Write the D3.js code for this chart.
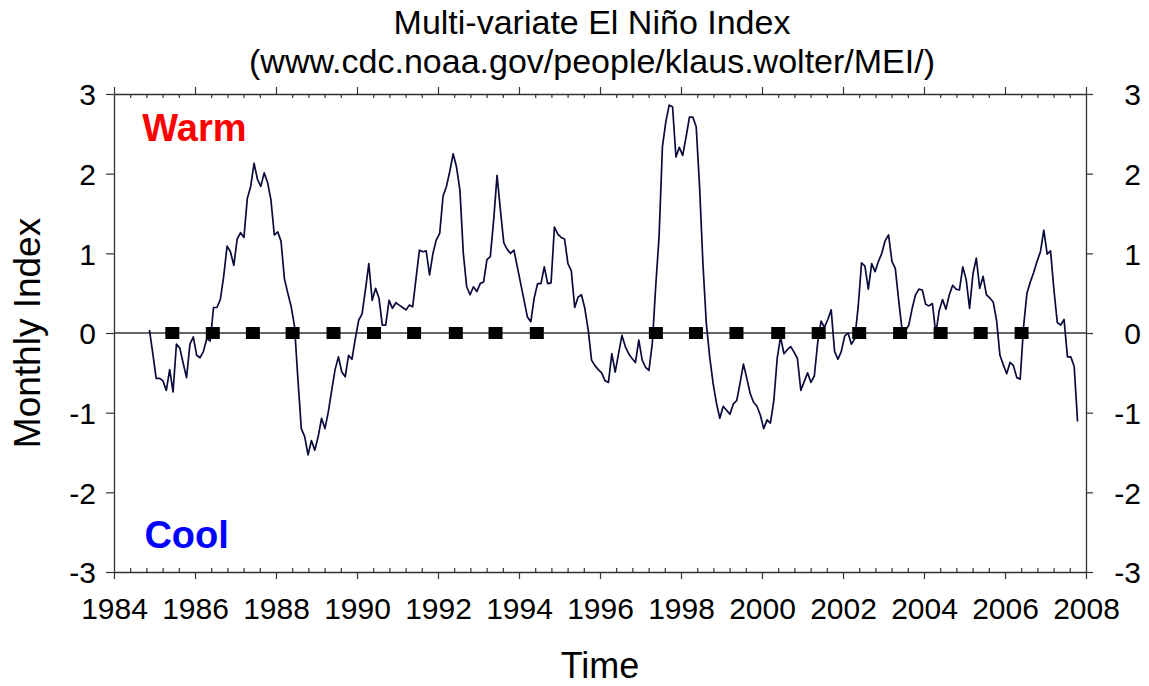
<!DOCTYPE html>
<html>
<head>
<meta charset="utf-8">
<script src="https://cdn.jsdelivr.net/npm/d3@7"></script>
<style>
  body { margin: 0; background: #fff; }
  svg { display: block; font-family: "Liberation Sans", Arial, sans-serif; }
</style>
</head>
<body>
<div id="chart"></div>
<script>
// DATA
var startYear = 1984.875; // first monthly value, then one value per month
var mei = [
   0.04, -0.26, -0.57, -0.57, -0.60, -0.72, -0.46, -0.74, -0.14, -0.19, -0.38, -0.56,
  -0.14, -0.05, -0.28, -0.31, -0.23, -0.07, -0.10,  0.32,  0.32,  0.42,  0.71,  1.09,
   1.02,  0.85,  1.18,  1.26,  1.20,  1.69,  1.84,  2.13,  1.93,  1.84,  2.01,  1.89,
   1.67,  1.23,  1.27,  1.15,  0.68,  0.50,  0.33,  0.08, -0.59, -1.20, -1.30, -1.53,
  -1.35, -1.47, -1.30, -1.07, -1.20, -0.99, -0.72, -0.46, -0.30, -0.49, -0.55, -0.28,
  -0.33, -0.07,  0.16,  0.24,  0.54,  0.87,  0.41,  0.56,  0.44,  0.10,  0.10,  0.41,
   0.31,  0.38,  0.35,  0.32,  0.29,  0.35,  0.33,  0.69,  1.04,  1.02,  1.03,  0.73,
   1.00,  1.17,  1.25,  1.72,  1.84,  2.03,  2.25,  2.08,  1.79,  1.00,  0.58,  0.48,
   0.58,  0.52,  0.62,  0.64,  0.92,  0.96,  1.42,  1.98,  1.54,  1.13,  1.05,  1.00,
   1.04,  0.83,  0.62,  0.41,  0.20,  0.14,  0.44,  0.62,  0.62,  0.83,  0.62,  0.63,
   1.33,  1.24,  1.20,  1.18,  0.87,  0.78,  0.32,  0.45,  0.48,  0.31,  0.04, -0.34,
  -0.41, -0.46, -0.50, -0.60, -0.62, -0.26, -0.49, -0.26, -0.03, -0.17, -0.26, -0.32,
  -0.37, -0.09, -0.34, -0.43, -0.47, -0.13,  0.58,  1.21,  2.34,  2.65,  2.86,  2.84,
   2.21,  2.33,  2.23,  2.46,  2.71,  2.71,  2.59,  1.84,  0.87,  0.12, -0.30, -0.63,
  -0.88, -1.07, -0.92, -0.97, -1.02, -0.89, -0.85, -0.63, -0.39, -0.57, -0.76, -0.87,
  -0.92, -1.03, -1.20, -1.09, -1.13, -0.85, -0.32, -0.05, -0.26, -0.21, -0.17, -0.24,
  -0.32, -0.72, -0.61, -0.50, -0.62, -0.54, -0.12,  0.15,  0.07,  0.17,  0.29, -0.23,
  -0.33, -0.23, -0.04,  0.00, -0.14, -0.07,  0.33,  0.88,  0.84,  0.55,  0.87,  0.77,
   0.90,  1.00,  1.16,  1.23,  0.90,  0.81,  0.41,  0.04,  0.03,  0.10,  0.31,  0.48,
   0.55,  0.54,  0.36,  0.34,  0.37, -0.01,  0.28,  0.42,  0.30,  0.48,  0.60,  0.55,
   0.54,  0.83,  0.67,  0.31,  0.74,  0.94,  0.56,  0.71,  0.48,  0.44,  0.39,  0.16,
  -0.28, -0.40, -0.51, -0.37, -0.41, -0.56, -0.58,  0.08,  0.50,  0.64,  0.76,  0.90,
   1.02,  1.29,  0.99,  1.03,  0.54,  0.13,  0.10,  0.17, -0.30, -0.30, -0.42, -1.11
];
// black squares sitting on the zero line
var markerYears = [1985.44, 1986.44, 1987.43, 1988.41, 1989.42, 1990.42, 1991.41, 1992.44, 1993.42, 1994.44,
                   1997.38, 1998.37, 1999.37, 2000.40, 2001.40, 2002.40, 2003.41, 2004.41, 2005.40, 2006.41];
var yearTicks = [1984, 1986, 1988, 1990, 1992, 1994, 1996, 1998, 2000, 2002, 2004, 2006, 2008];
var indexTicks = [-3, -2, -1, 0, 1, 2, 3];


// SVG
var svgWidth = 1149;
var svgHeight = 686;
var margins = { top: 94, bottom: 114, left: 114, right: 63 };
var width = svgWidth - margins.left - margins.right;
var height = svgHeight - margins.top - margins.bottom;

var svg = d3.select("#chart")
    .append("svg")
    .attr("width", svgWidth)
    .attr("height", svgHeight);

var g = svg.append("g")
    .attr("transform", "translate(" + margins.left + "," + margins.top + ")");

// Scales
var x = d3.scaleLinear().domain([1984, 2008]).range([0, width]);
var y = d3.scaleLinear().domain([-3, 3]).range([height, 0]);

// minor ticks every 0.4 year, skipping the labelled ones
var minorTicks = d3.range(1984, 2008.001, 0.4).filter(function(v) {
    return Math.abs(v - Math.round(v / 2) * 2) > 0.01;
});

var axisColor = "#333";
var tickFont = 30;
var plainNum = function(d) { return String(d); }; // keep ascii hyphen for negatives

// Bottom axis (major ticks out, minor ticks in)
g.append("g")
    .attr("transform", "translate(0," + height + ")")
    .call(d3.axisBottom(x).tickValues(yearTicks).tickFormat(plainNum)
        .tickSizeInner(7).tickSizeOuter(0).tickPadding(19));
g.append("g")
    .attr("transform", "translate(0," + height + ")")
    .call(d3.axisBottom(x).tickValues(minorTicks).tickFormat("")
        .tickSizeInner(-4).tickSizeOuter(0))
    .select(".domain").remove();

// Top axis
g.append("g")
    .call(d3.axisTop(x).tickValues(yearTicks).tickFormat("")
        .tickSizeInner(7).tickSizeOuter(0));
g.append("g")
    .call(d3.axisTop(x).tickValues(minorTicks).tickFormat("")
        .tickSizeInner(-4).tickSizeOuter(0))
    .select(".domain").remove();

// Left and right axes
var left = g.append("g")
    .call(d3.axisLeft(y).tickValues(indexTicks).tickFormat(plainNum)
        .tickSizeInner(8).tickSizeOuter(0).tickPadding(10));
var right = g.append("g")
    .attr("transform", "translate(" + width + ",0)")
    .call(d3.axisRight(y).tickValues(indexTicks).tickFormat(plainNum)
        .tickSizeInner(7).tickSizeOuter(0).tickPadding(48));

g.selectAll(".domain").attr("stroke", axisColor).attr("stroke-width", 1.3);
g.selectAll(".tick line").attr("stroke", axisColor).attr("stroke-width", 1.2);
g.selectAll(".tick text")
    .attr("font-family", "Liberation Sans, Arial, sans-serif")
    .attr("font-size", tickFont)
    .attr("fill", "#000");
left.selectAll(".tick text").attr("dy", "0.36em");
right.selectAll(".tick text").attr("dy", "0.36em").attr("text-anchor", "end");

// Zero line
g.append("line")
    .attr("x1", 0).attr("x2", width)
    .attr("y1", y(0)).attr("y2", y(0))
    .attr("stroke", axisColor)
    .attr("stroke-width", 1.3);

// Index line
var points = mei.map(function(v, i) {
    return { year: startYear + i / 12, value: v };
});
g.append("path")
    .datum(points)
    .attr("fill", "none")
    .attr("stroke", "#0a0a3c")
    .attr("stroke-width", 1.7)
    .attr("stroke-linejoin", "round")
    .attr("d", d3.line()
        .x(function(d) { return x(d.year); })
        .y(function(d) { return y(d.value); }));

// Squares
var sqW = 14, sqH = 12;
g.selectAll(".marker")
    .data(markerYears)
    .enter().append("rect")
    .attr("class", "marker")
    .attr("x", function(d) { return x(d) - sqW / 2; })
    .attr("y", y(0) - sqH / 2)
    .attr("width", sqW)
    .attr("height", sqH)
    .attr("fill", "#000");

// Warm / Cool labels
g.append("text")
    .attr("x", x(1984.7))
    .attr("y", y(2.41))
    .attr("font-size", 38)
    .attr("font-weight", "bold")
    .attr("fill", "#ff0000")
    .text("Warm");
g.append("text")
    .attr("x", x(1984.75))
    .attr("y", y(-2.7))
    .attr("font-size", 38)
    .attr("font-weight", "bold")
    .attr("fill", "#0000ff")
    .text("Cool");

// Titles
svg.append("text")
    .attr("x", 592).attr("y", 34)
    .attr("text-anchor", "middle")
    .attr("font-size", 34)
    .text("Multi-variate El Niño Index");
svg.append("text")
    .attr("x", 592).attr("y", 73)
    .attr("text-anchor", "middle")
    .attr("font-size", 34)
    .text("(www.cdc.noaa.gov/people/klaus.wolter/MEI/)");

svg.append("text")
    .attr("x", 600).attr("y", 678)
    .attr("text-anchor", "middle")
    .attr("font-size", 36)
    .text("Time");

svg.append("text")
    .attr("transform", "translate(40," + (margins.top + y(0)) + ") rotate(-90)")
    .attr("text-anchor", "middle")
    .attr("font-size", 37)
    .text("Monthly Index");
</script>
</body>
</html>
